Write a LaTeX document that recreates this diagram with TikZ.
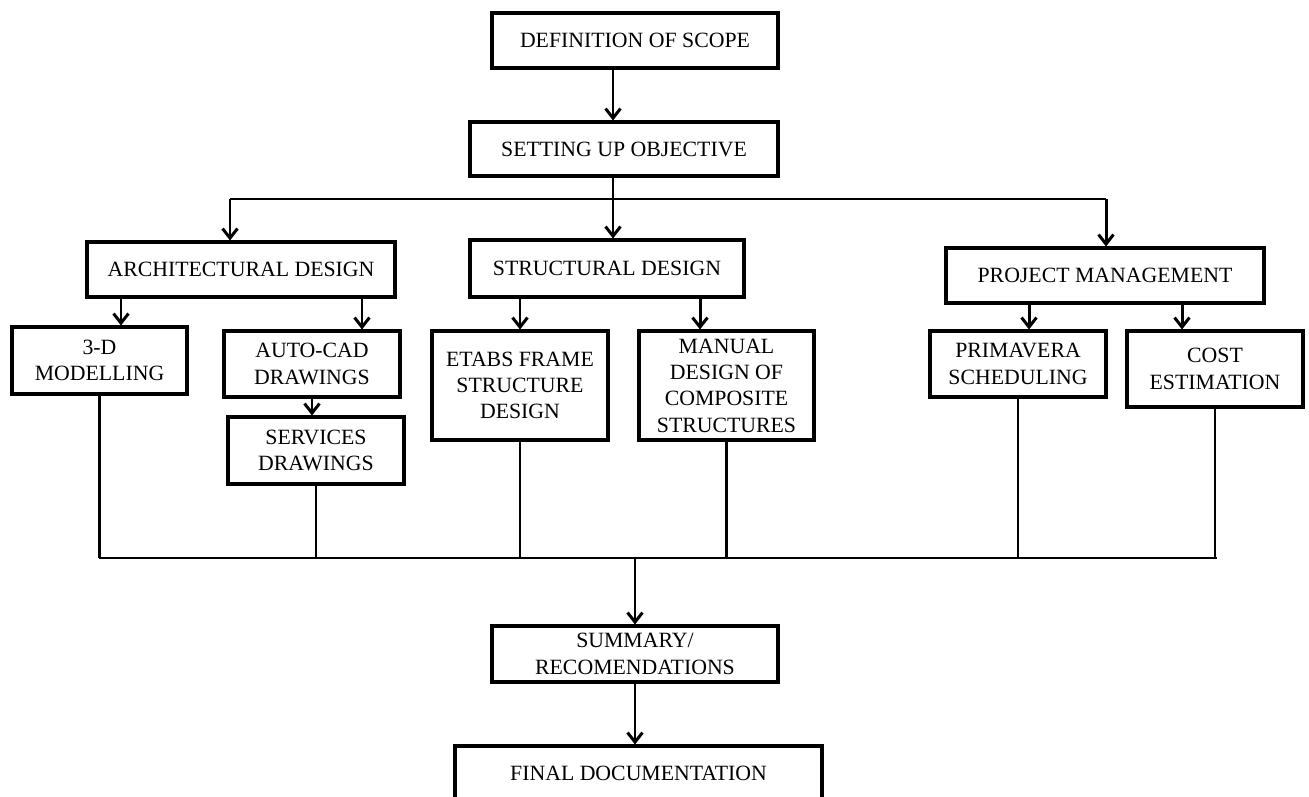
\documentclass[tikz,border=0pt]{standalone}
\usepackage{fontspec}
\setmainfont{Liberation Serif}
\usetikzlibrary{arrows.meta}
\tikzset{
  box/.style={draw=black, line width=1.75pt, fill=white, inner sep=0pt, align=center,
    font=\fontsize{12.4}{15}\selectfont, rectangle},
  arr/.style={line width=1.7pt, -{Straight Barb[length=1.9mm,width=3mm]}},
  ln/.style={line width=1.7pt},
  thin/.style={line width=1.25pt}
}
\newcommand\mybox[6]{%
  \node[box, minimum width={(#4-#2)*0.02cm}, minimum height={(#5-#3)*0.02cm}]
    (#1) at ({(#2+#4)/2},{(#3+#5)/2}) {#6};}
\begin{document}
\begin{tikzpicture}[x=0.02cm,y=-0.02cm]
\useasboundingbox (0,0) rectangle (1309,797);
\clip (0,0) rectangle (1309,797);
\mybox{def}{492}{13}{778}{68}{DEFINITION OF SCOPE}
\mybox{setup}{470}{122}{778}{176}{SETTING UP OBJECTIVE}
\mybox{arch}{87}{242}{395}{297}{ARCHITECTURAL DESIGN}
\mybox{struct}{470}{240}{744}{297}{STRUCTURAL DESIGN}
\mybox{pm}{946}{248}{1264}{303}{PROJECT MANAGEMENT}
\mybox{mod}{12}{327}{187}{394}{3-D\\MODELLING}
\mybox{cad}{224}{331}{400}{397}{AUTO-CAD\\DRAWINGS}
\mybox{serv}{228}{417}{404}{484}{SERVICES\\DRAWINGS}
\mybox{etabs}{432}{331}{608}{440}{ETABS FRAME\\STRUCTURE\\DESIGN}
\mybox{manual}{639}{331}{814}{440}{MANUAL\\DESIGN OF\\COMPOSITE\\STRUCTURES}
\mybox{prim}{930}{331}{1106}{397}{PRIMAVERA\\SCHEDULING}
\mybox{cost}{1127}{331}{1303}{407}{COST\\ESTIMATION}
\mybox{summ}{492}{626}{778}{682}{SUMMARY/\\RECOMENDATIONS}
\mybox{final}{455}{746}{822}{800}{FINAL DOCUMENTATION}
% helper coordinates
\coordinate (xa) at (613,0);
\coordinate (top) at (613,199);
\coordinate (topL) at (230,199);
\coordinate (topR) at (1106,199);
\coordinate (x121) at (121,0);
\coordinate (x362) at (362,0);
\coordinate (x312) at (312,0);
\coordinate (x520) at (520,0);
\coordinate (x700) at (700,0);
\coordinate (x1029) at (1029,0);
\coordinate (x1182) at (1182,0);
\coordinate (x635) at (635,0);
\coordinate (barL) at (99,558);
\coordinate (barR) at (1217,558);
\coordinate (barM) at (635,558);
% top
\draw[arr] (def.south -| xa) -- (setup.north -| xa);
\draw[ln] (setup.south -| xa) -- (top);
\draw[ln] (topL) -- (topR);
\draw[arr] (topL) -- (arch.north -| topL);
\draw[arr] (top) -- (struct.north -| top);
\draw[arr] (topR) -- (pm.north -| topR);
% second level
\draw[arr] (arch.south -| x121) -- (mod.north -| x121);
\draw[arr] (arch.south -| x362) -- (cad.north -| x362);
\draw[arr] (cad.south -| x312) -- (serv.north -| x312);
\draw[arr] (struct.south -| x520) -- (etabs.north -| x520);
\draw[arr] (struct.south -| x700) -- (manual.north -| x700);
\draw[arr] (pm.south -| x1029) -- (prim.north -| x1029);
\draw[arr] (pm.south -| x1182) -- (cost.north -| x1182);
% to bottom bar
\draw[thin] (mod.south) -- (mod.south |- barL);
\draw[thin] (serv.south) -- (serv.south |- barL);
\draw[thin] (etabs.south) -- (etabs.south |- barL);
\draw[thin] (manual.south) -- (manual.south |- barL);
\draw[thin] (prim.south) -- (prim.south |- barL);
\draw[thin] (cost.south) -- (cost.south |- barL);
\draw[ln] (barL) -- (barR);
\draw[arr] (barM) -- (summ.north -| barM);
\draw[arr] (summ.south -| x635) -- (final.north -| x635);
\end{tikzpicture}
\end{document}
